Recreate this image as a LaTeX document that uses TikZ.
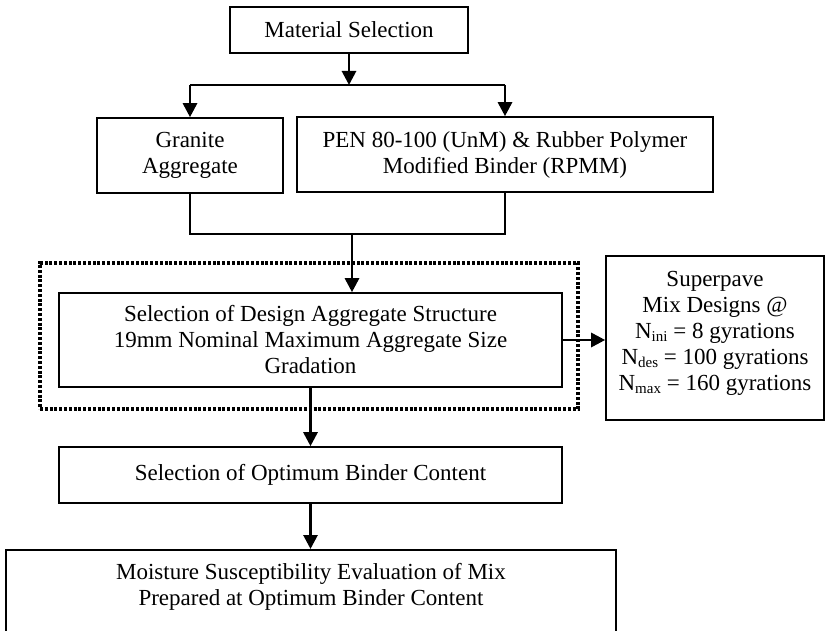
\documentclass[tikz,border=0pt]{standalone}
\usepackage{fontspec}
\setmainfont{Liberation Serif}
\usetikzlibrary{arrows.meta}
\newcommand{\sub}[1]{\raisebox{-0.25ex}{\fontsize{7.5}{8}\selectfont #1}}

\begin{document}
\begin{tikzpicture}[x=0.5pt,y=-0.5pt,
  box/.style={draw,line width=0.8pt,align=center,inner sep=0pt,
              font=\fontsize{11.5}{13}\selectfont},
  line/.style={line width=0.7pt},
  arrow/.style={line width=1.4pt,-{Triangle[length=7pt,width=7pt]}},
  dotbox/.style={draw,line width=1.8pt,dash pattern=on 1.5pt off 0.9pt}]
  \useasboundingbox (0,0) rectangle (826,631);
  \clip (0,0) rectangle (826,631);

  \node[box,minimum width=119pt,minimum height=23pt] (mat) at (349,30) {Material Selection};
  \node[box,minimum width=93pt,minimum height=37.5pt] (gran) at (190,155.5) {Granite\\Aggregate};
  \node[box,minimum width=208pt,minimum height=37.5pt] (pen) at (505,154.5)
    {PEN 80-100 (UnM) \& Rubber Polymer\\Modified Binder (RPMM)};
  \node[dotbox,minimum width=269pt,minimum height=73pt] (grp) at (309,336) {};
  \node[box,minimum width=251.5pt,minimum height=47pt] (design) at (310.5,340)
    {Selection of Design Aggregate Structure\\19mm Nominal Maximum Aggregate Size\\Gradation};
  \node[box,minimum width=109pt,minimum height=82pt,text depth=7pt] (sup) at (715,338)
    {Superpave\\Mix Designs @\\N\sub{ini} = 8 gyrations\\
     N\sub{des} = 100 gyrations\\N\sub{max} = 160 gyrations};
  \node[box,minimum width=251.5pt,minimum height=28pt] (opt) at (310.5,475)
    {Selection of Optimum Binder Content};
  \node[box,minimum width=305pt,minimum height=60pt,text depth=25pt,anchor=north] (moist) at (311,549)
    {Moisture Susceptibility Evaluation of Mix\\Prepared at Optimum Binder Content};

  \coordinate (split) at (349,85);
  \coordinate (join) at (352,234);

  \draw[arrow] (mat) -- (split);
  \draw[line] (split -| gran) -- (split -| pen);
  \draw[arrow] (split -| gran) -- (gran);
  \draw[arrow] (split -| pen) -- (pen);
  \draw[line] (gran) -- (join -| gran) -- (join -| pen) -- (pen);
  \draw[arrow] (join) -- (join |- design.north);
  \draw[arrow] (design) -- (design -| sup.west);
  \draw[arrow] (design) -- (opt);
  \draw[arrow] (opt.south) -- (opt.south |- moist.north);
\end{tikzpicture}
\end{document}
